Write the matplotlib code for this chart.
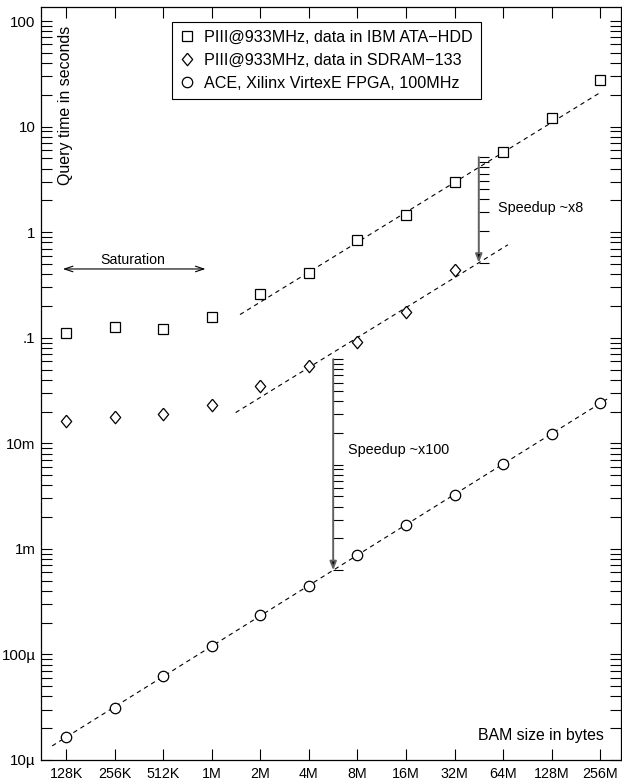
import matplotlib

matplotlib.use("Agg")
import matplotlib.pyplot as plt
import numpy as np
from matplotlib.ticker import FixedLocator, LogLocator, NullFormatter

plt.rcParams["font.family"] = ["Liberation Sans", "DejaVu Sans"]

# BAM sizes on the x axis (one step = doubling)
SIZES = ["128K", "256K", "512K", "1M", "2M", "4M", "8M", "16M", "32M", "64M", "128M", "256M"]
# query times in seconds
HDD = [0.112, 0.126, 0.121, 0.156, 0.261, 0.41, 0.85, 1.47, 3.0, 5.7, 12.1, 27.9]
SDRAM = [0.0164, 0.0179, 0.0189, 0.0232, 0.0351, 0.0535, 0.092, 0.175, 0.44]
ACE = [1.66e-5, 3.13e-5, 6.2e-5, 1.2e-4, 2.37e-4, 4.49e-4, 8.8e-4, 1.69e-3,
       3.25e-3, 6.35e-3, 1.23e-2, 2.40e-2]
LABELS = ["PIII@933MHz, data in IBM ATA\u2212HDD",
          "PIII@933MHz, data in SDRAM\u2212133",
          "ACE, Xilinx VirtexE FPGA, 100MHz"]

YTICKS = [1e-5, 1e-4, 1e-3, 1e-2, 0.1, 1, 10, 100]
YTICK_LABELS = ["10\u00b5", "100\u00b5", "1m", "10m", ".1", "1", "10", "100"]

HDD_FIT_IDX = slice(5, 10)   # 4M .. 64M used for the HDD trend line
SDRAM_FACTOR = 8             # SDRAM trend = HDD trend / 8
SPEEDUP_TEXT = ["Speedup ~x8", "Speedup ~x100"]

x = np.arange(len(SIZES))
hdd_fit = np.polyfit(x[HDD_FIT_IDX], np.log10(HDD[HDD_FIT_IDX]), 1)
ace_fit = np.polyfit(x, np.log10(ACE), 1)


def hdd_line(v):
    return 10 ** np.polyval(hdd_fit, v)


def sdram_line(v):
    return hdd_line(v) / SDRAM_FACTOR


def ace_line(v):
    return 10 ** np.polyval(ace_fit, v)


fig = plt.figure(figsize=(6.22, 7.84), dpi=100)
ax = fig.add_axes([41 / 622, 1 - 760 / 784, 580 / 622, 753 / 784])
ax.set_yscale("log")

mk = dict(linestyle="none", mfc="white", mec="black", mew=0.9)
diamond = [(0, 1), (0.83, 0), (0, -1), (-0.83, 0), (0, 1)]
ax.plot(x, HDD, marker="s", ms=7.3, label=LABELS[0], **mk)
ax.plot(x[:len(SDRAM)], SDRAM, marker=diamond, ms=9, label=LABELS[1], **mk)
ax.plot(x, ACE, marker="o", ms=7.5, label=LABELS[2], **mk)

dash = dict(color="black", lw=0.8, dashes=(4, 3.5), zorder=1)
xs = np.array([3.58, 11.0])
ax.plot(xs, hdd_line(xs), **dash)
xs = np.array([3.49, 9.1])
ax.plot(xs, sdram_line(xs), **dash)
xs = np.array([-0.29, 11.2])
ax.plot(xs, ace_line(xs), **dash)


def speedup_arrow(xpos, bottom, decades):
    top = bottom * 10 ** decades
    ax.annotate("", xy=(xpos, bottom), xytext=(xpos, top),
                arrowprops=dict(arrowstyle="-|>,head_length=0.5,head_width=0.2",
                                ec="#606060", fc="black", lw=1.4,
                                shrinkA=0, shrinkB=0))
    ys = sorted({bottom * 10 ** d * k for d in range(decades) for k in range(1, 11)})
    ax.hlines(ys, xpos, xpos + 0.21, color="black", lw=0.8)


speedup_arrow(8.5, sdram_line(8.5), 1)
speedup_arrow(5.5, ace_line(5.5), 2)
ax.text(8.89, 1.71, SPEEDUP_TEXT[0], ha="left", va="center", fontsize=10.4)
ax.text(5.80, 0.00867, SPEEDUP_TEXT[1], ha="left", va="center", fontsize=10.4)

ax.annotate("", xy=(-0.07, 0.448), xytext=(2.87, 0.448),
            arrowprops=dict(arrowstyle="<->,head_length=0.6,head_width=0.2",
                            color="black", lw=0.8, shrinkA=0, shrinkB=0))
ax.text(1.38, 0.548, "Saturation", ha="center", va="center", fontsize=10.2)

ax.text(0.0414, 0.87, "Query time in seconds", rotation=90, ha="center",
        va="center", fontsize=11.5, transform=ax.transAxes)
ax.text(0.9707, 0.0332, "BAM size in bytes", ha="right", va="center",
        fontsize=11.4, transform=ax.transAxes)

ax.set_xlim(-0.52, 11.43)
ax.set_ylim(1e-5, 135.8)
ax.xaxis.set_major_locator(FixedLocator(x))
ax.set_xticklabels(SIZES, fontsize=10.3)
ax.yaxis.set_major_locator(FixedLocator(YTICKS))
ax.set_yticklabels(YTICK_LABELS, fontsize=10.8)
ax.yaxis.set_minor_locator(LogLocator(base=10, subs=np.arange(2, 10)))
ax.yaxis.set_minor_formatter(NullFormatter())
ax.tick_params(axis="x", which="both", direction="in", top=True, length=8,
               width=0.8, pad=5)
ax.tick_params(axis="y", which="both", direction="in", right=True, length=8,
               width=0.8, pad=4)
for s in ax.spines.values():
    s.set_linewidth(0.9)

leg = ax.legend(loc="upper left", bbox_to_anchor=(0.2259, 0.9805), borderaxespad=0,
                fontsize=11.6, fancybox=False, edgecolor="black", framealpha=1,
                handlelength=0.8, handletextpad=0.7, labelspacing=0.5,
                borderpad=0.5)
leg.get_frame().set_linewidth(0.8)

fig.savefig("out.png", dpi=100)
